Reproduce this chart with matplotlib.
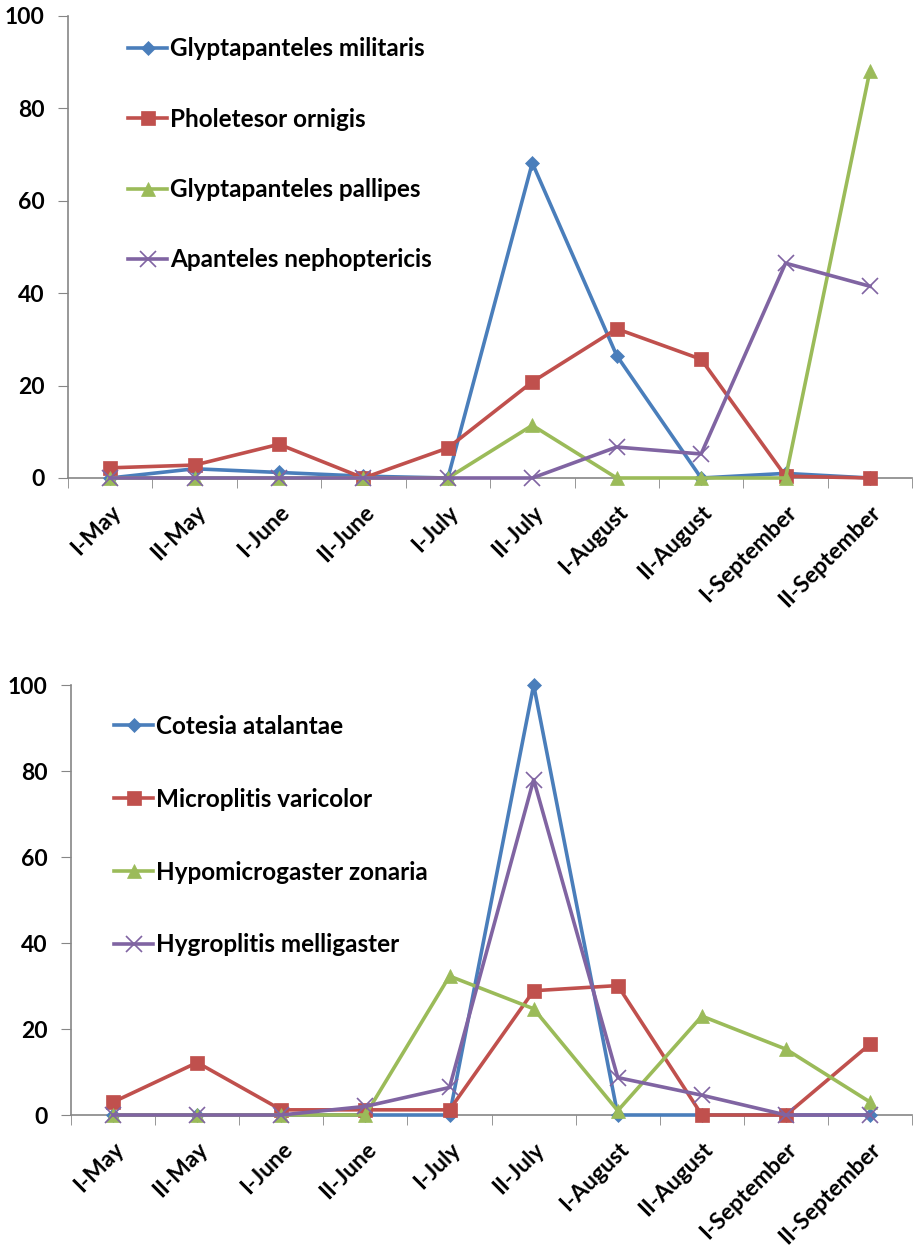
import matplotlib.pyplot as plt
import numpy as np

periods = ["I-May", "II-May", "I-June", "II-June", "I-July", "II-July",
           "I-August", "II-August", "I-September", "II-September"]

# top panel
top_names = ["Glyptapanteles militaris", "Pholetesor ornigis",
             "Glyptapanteles pallipes", "Apanteles nephoptericis"]
g_militaris = [0, 2, 1.2, 0.4, 0, 68.2, 26.5, 0, 1, 0]
p_ornigis = [2.2, 2.8, 7.3, 0, 6.5, 20.8, 32.3, 25.7, 0.4, 0]
g_pallipes = [0, 0, 0, 0, 0, 11.4, 0, 0, 0, 88.2]
a_nephoptericis = [0, 0, 0, 0, 0, 0, 6.7, 5.2, 46.5, 41.5]

# bottom panel
bottom_names = ["Cotesia atalantae", "Microplitis varicolor",
                "Hypomicrogaster zonaria", "Hygroplitis melligaster"]
c_atalantae = [0, 0, 0, 0, 0, 100, 0, 0, 0, 0]
m_varicolor = [3, 12.2, 1.2, 1.2, 1.2, 28.9, 30.1, 0, 0, 16.5]
h_zonaria = [0, 0, 0, 0, 32.3, 24.7, 1, 23, 15.3, 3]
h_melligaster = [0, 0, 0, 2, 6.4, 78, 8.7, 4.6, 0, 0]

colors = ["#4A7EBB", "#C0504D", "#9BBB59", "#8064A2"]
markers = ["D", "s", "^", "x"]
msizes = [7, 10, 10, 11]

plt.rcParams['font.family'] = ['Lato', 'DejaVu Sans']
plt.rcParams['font.weight'] = 'bold'

fig = plt.figure(figsize=(9.14, 12.5), dpi=100)
ax1 = fig.add_axes([0.0744, 0.6176, 0.9236, 0.3696])
ax2 = fig.add_axes([0.0777, 0.108, 0.9203, 0.344])


def draw(ax, names, series, leg_x, leg_y, spacing):
    x = np.arange(len(periods))
    for i, (name, vals) in enumerate(zip(names, series)):
        ax.plot(x, vals, color=colors[i], lw=2.6, marker=markers[i],
                ms=msizes[i], mew=1.2 if markers[i] == "x" else 0.5,
                mec=colors[i], label=name, clip_on=False, zorder=3 + i)
    ax.set_xlim(-0.5, len(periods) - 0.5)
    ax.set_ylim(0, 100)
    ax.set_yticks(np.arange(0, 101, 20))
    ax.set_xticks(x)
    ax.set_xticklabels(periods, rotation=45, ha="right", rotation_mode="anchor")
    ax.set_xticks(np.arange(-0.5, len(periods), 1), minor=True)
    ax.tick_params(axis="x", which="major", length=0, pad=17, labelsize=16.5)
    ax.tick_params(axis="x", which="minor", length=7, color="#868686",
                   direction="out")
    ax.tick_params(axis="y", length=7, color="#868686", labelsize=16.5, pad=10)
    for s in ["top", "right"]:
        ax.spines[s].set_visible(False)
    for s in ["left", "bottom"]:
        ax.spines[s].set_color("#868686")
        ax.spines[s].set_linewidth(1.2)
    ax.legend(loc="upper left", bbox_to_anchor=(leg_x, leg_y), frameon=False,
              fontsize=17.5, labelspacing=spacing, handlelength=1.6,
              handletextpad=0.1, borderaxespad=0)


draw(ax1, top_names, [g_militaris, p_ornigis, g_pallipes, a_nephoptericis],
     0.06, 0.975, 1.95)
draw(ax2, bottom_names, [c_atalantae, m_varicolor, h_zonaria, h_melligaster],
     0.04, 0.953, 2.05)

plt.savefig("out.png", dpi=100)
